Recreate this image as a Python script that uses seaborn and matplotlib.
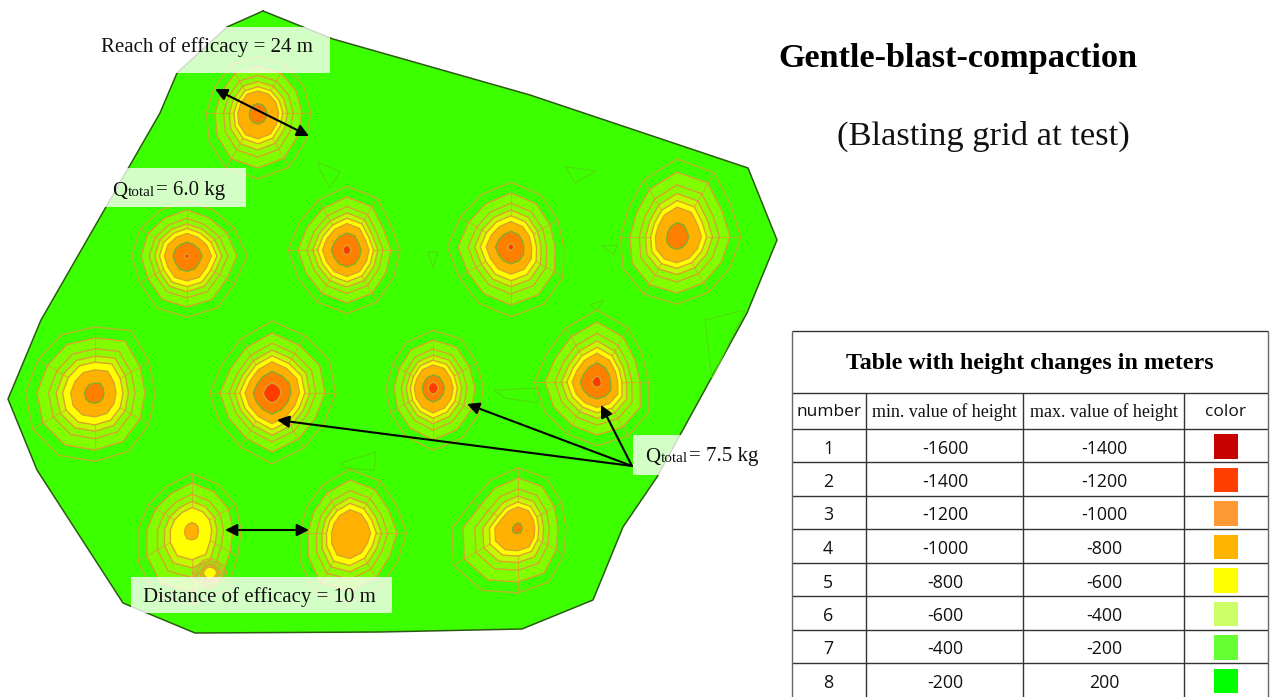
import matplotlib
matplotlib.use('Agg')
import matplotlib.pyplot as plt
from matplotlib.patches import Rectangle
import numpy as np
import pandas as pd
import seaborn as sns

# survey area outline
field_x = [263, 333, 530, 748, 777, 747, 657, 623, 593, 522, 380, 195, 123, 37, 8, 41, 160, 177, 227, 263]
field_y = [11, 39, 95, 168, 240, 313, 477, 527, 600, 629, 632, 633, 603, 470, 399, 320, 113, 73, 27, 11]

# craters: centre and lime contour radius in 12 directions (clockwise from east)
crater_x = [258, 187, 347, 511, 677, 95, 272, 433, 597, 192, 350, 518, 210]
crater_y = [113, 256, 250, 247, 237, 393, 393, 388, 382, 530, 533, 528, 573]
crater_r = [
    [44, 46, 52, 55, 53, 47, 43, 42, 46, 47, 46, 44],
    [50, 46, 50, 51, 50, 45, 46, 45, 44, 46, 44, 46],
    [44, 45, 50, 53, 50, 47, 49, 46, 48, 53, 50, 42],
    [44, 50, 55, 58, 54, 50, 53, 49, 50, 54, 50, 45],
    [53, 51, 53, 56, 55, 52, 47, 47, 55, 65, 62, 52],
    [50, 52, 56, 57, 60, 60, 58, 55, 56, 55, 60, 52],
    [53, 50, 53, 59, 52, 50, 52, 48, 52, 60, 55, 55],
    [42, 44, 48, 52, 46, 41, 39, 39, 44, 48, 47, 42],
    [43, 50, 52, 53, 50, 50, 52, 48, 52, 60, 52, 44],
    [41, 44, 58, 62, 62, 52, 45, 42, 42, 47, 44, 42],
    [47, 46, 52, 58, 58, 48, 42, 42, 46, 53, 50, 45],
    [40, 44, 52, 54, 60, 62, 55, 44, 46, 50, 48, 42],
    [14, 12, 12, 13, 12, 12, 14, 12, 12, 12, 12, 13],
]
# contour radius as a fraction of the lime radius, 0 = contour missing
yellow_frac = [0.56, 0.60, 0.60, 0.58, 0.56, 0.56, 0.62, 0.58, 0.58, 0.48, 0.56, 0.52, 0.50]
amber_frac = [0.47, 0.49, 0.50, 0.47, 0.46, 0.42, 0.52, 0.48, 0.48, 0.16, 0.44, 0.42, 0.0]
orange_frac = [0.20, 0.30, 0.32, 0.29, 0.22, 0.18, 0.36, 0.27, 0.32, 0.0, 0.0, 0.10, 0.0]
red_frac = [0.0, 0.05, 0.09, 0.06, 0.0, 0.0, 0.17, 0.12, 0.10, 0.0, 0.0, 0.0, 0.0]

# faint contour scraps on the plain part of the field
scrap_x = [[318, 340, 330, 320], [566, 596, 575], [428, 438, 433], [602, 617, 614], [494, 540, 537, 505],
           [340, 376, 374, 345], [590, 604, 597, 590], [705, 745, 712, 705]]
scrap_y = [[162, 172, 188, 170], [167, 171, 183], [252, 252, 268], [246, 245, 255], [390, 388, 403, 398],
           [463, 452, 470, 468], [305, 300, 310, 305], [320, 310, 378, 320]]

# height table
table_title = 'Table with height changes in meters'
col_headers = ['number', 'min. value of height', 'max. value of height', 'color']
row_number = [1, 2, 3, 4, 5, 6, 7, 8]
min_height = [-1600, -1400, -1200, -1000, -800, -600, -400, -200]
max_height = [-1400, -1200, -1000, -800, -600, -400, -200, 200]
height_colors = ['#c80000', '#ff3f00', '#ff9933', '#ffb400', '#ffff00', '#ccff66', '#66ff33', '#00ff00']

FIELD = '#3cff00'
TAN = '#d9a22e'
SERIF = 'Liberation Serif'
SANS = 'Open Sans'

sns.set_theme(style='white')
plt.rcParams['font.family'] = [SERIF, 'DejaVu Sans']

fig = plt.figure(figsize=(12.7, 6.97), dpi=100)
ax = fig.add_axes([0, 0, 1, 1])

ax.fill(field_x, field_y, color=FIELD, lw=0, zorder=1)
sns.lineplot(x=field_x, y=field_y, sort=False, estimator=None, color='#2c5a12', lw=1.1, ax=ax, zorder=2)

for sx, sy in zip(scrap_x, scrap_y):
    ax.fill(sx, sy, fc='none', ec='#4fdc0c', lw=0.8, zorder=2)

angles = np.deg2rad(np.arange(0, 360, 30))


def ring(cx, cy, radii, frac):
    r = np.asarray(radii) * frac
    return cx + r * np.cos(angles), cy + r * np.sin(angles)


for i in range(len(crater_x)):
    cx, cy, radii = crater_x[i], crater_y[i], crater_r[i]
    y = yellow_frac[i]
    # outermost contour is a line only
    ox, oy = ring(cx, cy, radii, 1.2)
    ax.fill(ox, oy, fc='none', ec=TAN, lw=1.0, alpha=0.8, zorder=3)
    levels = [(1.0, '#80ff00'), (y + (1 - y) * 0.55, '#8cfd00'), (y + (1 - y) * 0.25, '#c4f800'),
              (y, '#ffff00'), (amber_frac[i], '#ffb000'), (orange_frac[i], '#ff8000'), (red_frac[i], '#ff3c00')]
    for frac, col in levels:
        if frac <= 0:
            continue
        rx, ry = ring(cx, cy, radii, frac)
        edge = '#7fae2e' if col == '#ff8000' else TAN
        ax.fill(rx, ry, fc=col, ec=edge, lw=1.0, zorder=3)
    # mesh lines crossing the contours, only some directions
    for k in range(i % 2, 12, 2):
        r = radii[k]
        a = angles[k]
        ax.plot([cx + r * y * np.cos(a), cx + r * 1.2 * np.cos(a)],
                [cy + r * y * np.sin(a), cy + r * 1.2 * np.sin(a)],
                color=TAN, lw=0.8, alpha=0.7, zorder=3)

# translucent label boxes
for bx, by, bw, bh in [(98, 27, 232, 46), (103, 168, 143, 39), (633, 435, 127, 40), (131, 577, 261, 36)]:
    ax.add_patch(Rectangle((bx, by), bw, bh, fc='white', ec='none', alpha=0.78, zorder=5))

ax.text(101, 47, 'Reach of efficacy = 24 m', fontsize=15, color='#111111', va='center', zorder=6)
ax.text(143, 597, 'Distance of efficacy = 10 m', fontsize=15, color='#111111', va='center', zorder=6)
for x0, base, tail in [(112, 196, '= 6.0 kg'), (645, 462, '= 7.5 kg')]:
    ax.text(x0, base, 'Q', fontsize=15, color='#111111', va='baseline', zorder=6)
    ax.text(x0 + 16, base, 'total', fontsize=11, color='#111111', va='baseline', zorder=6)
    ax.text(x0 + 44, base - 1, tail, fontsize=15, color='#111111', va='baseline', zorder=6)

# arrows
arrow_style = dict(color='black', lw=1.5, shrinkA=0, shrinkB=0, mutation_scale=18)
for a, b, style in [((215, 89), (309, 136), '<|-|>'), ((225, 530), (309, 530), '<|-|>'),
                    ((632, 466), (277, 420), '-|>'), ((632, 466), (467, 404), '-|>'), ((632, 466), (601, 405), '-|>')]:
    ax.annotate('', xy=b, xytext=a, arrowprops=dict(arrowstyle=style, **arrow_style), zorder=7)

ax.text(778, 59, 'Gentle-blast-compaction', fontsize=24.7, fontweight='bold', color='black', va='center')
ax.text(837, 136, '(Blasting grid at test)', fontsize=24.8, color='#111111', va='center')

# table grid
col_edges = [792, 866, 1023, 1184, 1268]
row_edges = [331, 393, 429, 462, 496, 529, 563, 596, 630, 663, 697]
grid = '#333333'
ax.hlines(row_edges[:-1], col_edges[0], col_edges[-1], color=grid, lw=1, zorder=2)
ax.vlines([col_edges[0], col_edges[-1]], row_edges[0], row_edges[-1], color='#666666', lw=1, zorder=2)
ax.vlines(col_edges[1:-1], row_edges[1], row_edges[-1], color=grid, lw=1, zorder=2)

col_mid = [(col_edges[i] + col_edges[i + 1]) / 2 for i in range(4)]
row_mid = [(row_edges[i] + row_edges[i + 1]) / 2 + 1 for i in range(2, 10)]
ax.text(1030, 364, table_title, fontsize=17.3, fontweight='bold', color='black', ha='center', va='center')
for j, head in enumerate(col_headers):
    fam = SANS if j in (0, 3) else SERIF
    ax.text(col_mid[j], 412, head, fontsize=12.5 if j in (0, 3) else 13, family=fam, color='#111111', ha='center', va='center')
for k in range(len(row_number)):
    ax.text(828, row_mid[k] + 2, str(row_number[k]), fontsize=12.8, family=SANS, color='#111111', ha='center', va='center')
    ax.text(col_mid[1] + 1, row_mid[k] + 2, str(min_height[k]), fontsize=12.8, family=SANS, color='#111111', ha='center', va='center')
    ax.text(col_mid[2] + 1, row_mid[k] + 2, str(max_height[k]), fontsize=12.8, family=SANS, color='#111111', ha='center', va='center')

swatches = pd.DataFrame({'number': row_number, 'x': [1226] * 8, 'y': row_mid})
sns.scatterplot(data=swatches, x='x', y='y', hue='number', palette=height_colors, marker='s', s=320,
                linewidth=0, legend=False, ax=ax, zorder=4)

ax.set_xlim(0, 1270)
ax.set_ylim(697, 0)
ax.axis('off')
fig.savefig('out.png', dpi=100, facecolor='white')
